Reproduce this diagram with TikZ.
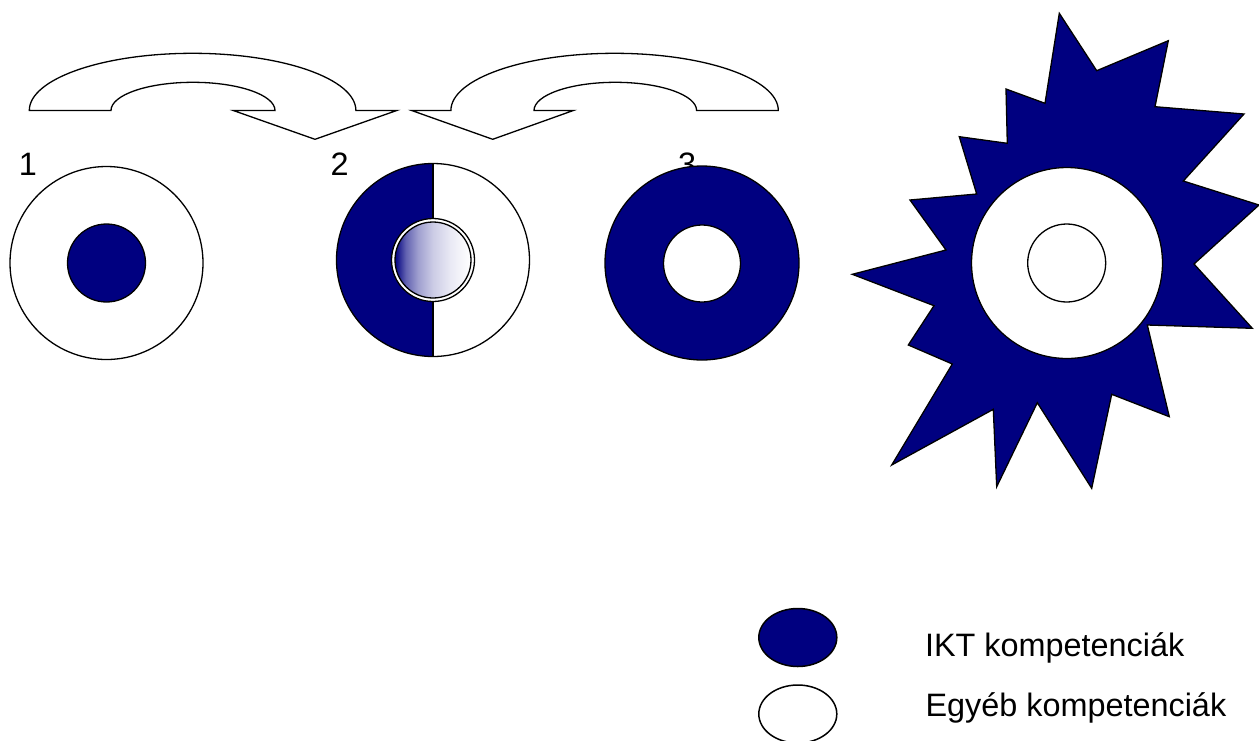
\documentclass[tikz,border=0pt]{standalone}
\usepackage{fontspec}
\setmainfont{Liberation Sans}
\usetikzlibrary{shapes.geometric}
\definecolor{ikt}{RGB}{0,0,128}
\pgfdeclarehorizontalshading{fadeshade}{100bp}{color(0bp)=(ikt); color(25bp)=(ikt); color(32bp)=(ikt!62!white); color(40bp)=(ikt!38!white); color(50bp)=(ikt!20!white); color(62bp)=(ikt!8!white); color(75bp)=(white); color(100bp)=(white)}
\begin{document}
\begin{tikzpicture}[x=1pt,y=-1pt,line width=1.3pt,line join=miter,
  ring/.style={circle,draw=black,fill=white,inner sep=0pt,outer sep=0pt},
  lbl/.style={anchor=base west,inner sep=0pt,outer sep=0pt,font=\fontsize{32.4}{38}\selectfont},
  legend/.style={ellipse,draw=black,line width=1.5pt,inner sep=0pt,minimum width=78pt,minimum height=58pt},
  bent/.style={draw=black,fill=white}]
\useasboundingbox (0,0) rectangle (1259,740);

% curved arrows
\path[bent] (29.3,110.5) arc[start angle=180,end angle=360,x radius=163.3,y radius=57.2]
  -- (396.7,110.5) -- (315,139.3) -- (233.3,110.5) -- (275,110.5)
  arc[start angle=0,end angle=-180,x radius=82,y radius=28.2] -- cycle;
\path[bent] (778.3,110.5) arc[start angle=0,end angle=-180,x radius=163.7,y radius=57.2]
  -- (411.7,110.5) -- (492.7,139.3) -- (573.3,110.5) -- (534,110.5)
  arc[start angle=180,end angle=360,x radius=81.3,y radius=28.2] -- cycle;

% labels
\node[lbl] (l1) at (19,175) {1};
\node[lbl] (l2) at (330.5,175) {2};
\node[lbl] (l3) at (678,175) {3};

% circle 1
\node[ring,minimum size=193pt] (o1) at (106.5,263) {};
\node[ring,fill=ikt,minimum size=78pt] (i1) at (106.5,263) {};

% circle 2
\coordinate (c2) at (433,260);
\begin{scope}
  \clip (c2) ++(-100,-100) rectangle ++(100,200);
  \fill[ikt] (c2) circle[radius=96.5];
\end{scope}
\node[ring,fill=none,minimum size=193pt] (o2) at (c2) {};
\draw (o2.north) -- (o2.south);
\node[ring,minimum size=83pt] (d2) at (c2) {};
\node[circle,draw=black,shading=fadeshade,minimum size=76pt,inner sep=0pt,outer sep=0pt] (g2) at (c2) {};

% circle 3
\node[ring,fill=ikt,minimum size=194pt] (o3) at (702,263) {};
\node[ring,minimum size=77pt] (i3) at (702,263.5) {};

% star
\path[draw=black,fill=ikt] (1059.3,13.3) -- (1096.7,70.7) -- (1168.3,40.7) -- (1155,106.7)
  -- (1244,114) -- (1183.3,181) -- (1259,205) -- (1194,264) -- (1252.3,328.3)
  -- (1147.3,325) -- (1169.3,416.7) -- (1111.7,394.3) -- (1091.7,488.3)
  -- (1037.3,402.7) -- (996.7,486.7) -- (993.3,409.3) -- (891.7,465)
  -- (952.3,364) -- (908.3,345) -- (934,305.7) -- (852.3,274.3) -- (946,250)
  -- (910,200) -- (976.7,194) -- (959.3,136.7) -- (1007.3,143.3) -- (1006,89)
  -- (1045,103.3) -- cycle;
\node[ring,minimum size=191pt] (o4) at (1067,263) {};
\node[ring,minimum size=78pt] (i4) at (1066.7,263) {};

% legend
\node[legend,fill=ikt] (k1) at (797.8,637.5) {};
\node[legend,fill=white] (k2) at (797.8,714) {};
\node[lbl] (t1) at (925,656) {IKT kompetenciák};
\node[lbl] (t2) at (925.5,716) {Egyéb kompetenciák};
\end{tikzpicture}
\end{document}
